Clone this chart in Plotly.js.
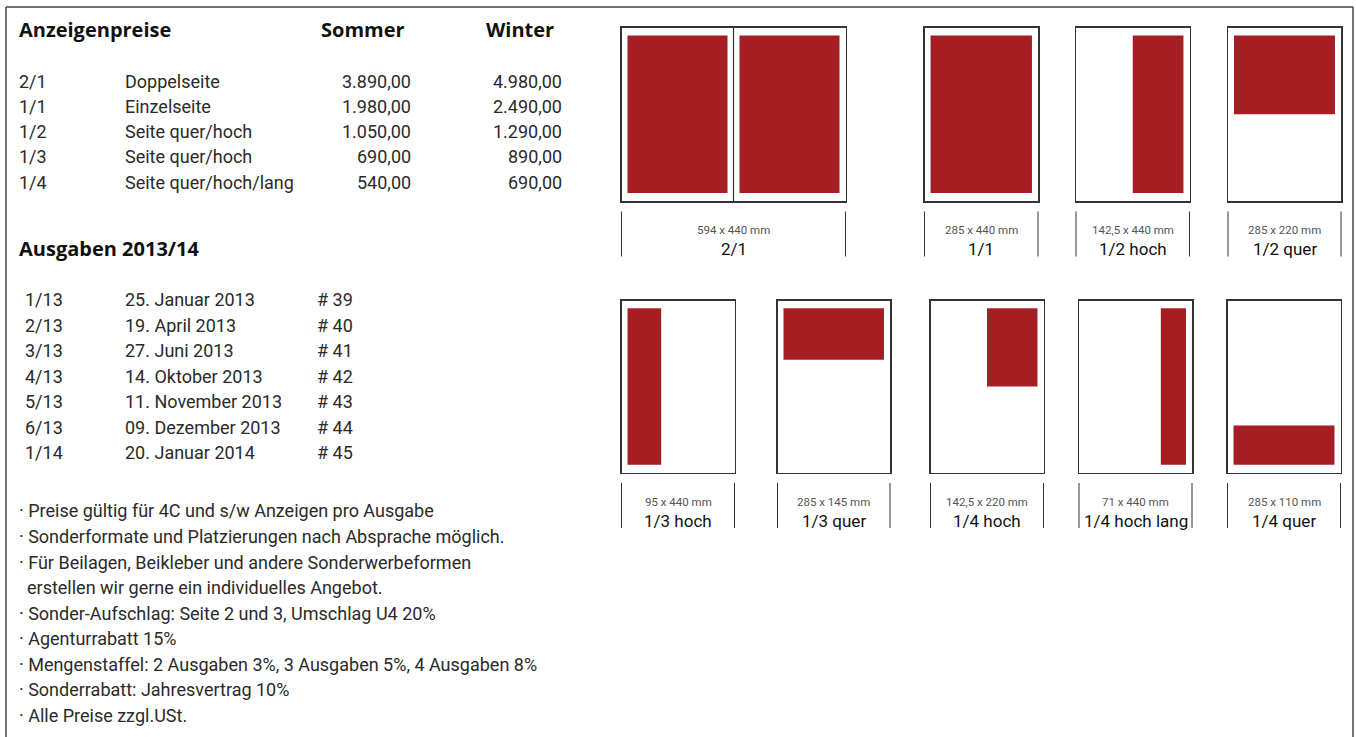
<!DOCTYPE html>
<html>
<head>
<meta charset="utf-8">
<script src="https://cdn.plot.ly/plotly-3.0.1.min.js"></script>
<style>
  html, body { margin: 0; padding: 0; background: #fff; }
  #chart { width: 1356px; height: 737px; }
</style>
</head>
<body>
<div id="chart"></div>
<script>
// ---------------- DATA ----------------
const priceFormats = ['2/1', '1/1', '1/2', '1/3', '1/4'];
const priceLabels = ['Doppelseite', 'Einzelseite', 'Seite quer/hoch', 'Seite quer/hoch', 'Seite quer/hoch/lang'];
const priceSommer = [3890, 1980, 1050, 690, 540];
const priceWinter = [4980, 2490, 1290, 890, 690];

const issueCodes = ['1/13', '2/13', '3/13', '4/13', '5/13', '6/13', '1/14'];
const issueDates = ['25. Januar 2013', '19. April 2013', '27. Juni 2013', '14. Oktober 2013',
                    '11. November 2013', '09. Dezember 2013', '20. Januar 2014'];
const issueNumbers = [39, 40, 41, 42, 43, 44, 45];

const notes = [
  '· Preise gültig für 4C und s/w Anzeigen pro Ausgabe',
  '· Sonderformate und Platzierungen nach Absprache möglich.',
  '· Für Beilagen, Beikleber und andere Sonderwerbeformen',
  '  erstellen wir gerne ein individuelles Angebot.',
  '· Sonder-Aufschlag: Seite 2 und 3, Umschlag U4 20%',
  '· Agenturrabatt 15%',
  '· Mengenstaffel: 2 Ausgaben 3%, 3 Ausgaben 5%, 4 Ausgaben 8%',
  '· Sonderrabatt: Jahresvertrag 10%',
  '· Alle Preise zzgl.USt.'
];

const formatNames = ['2/1', '1/1', '1/2 hoch', '1/2 quer', '1/3 hoch', '1/3 quer', '1/4 hoch', '1/4 hoch lang', '1/4 quer'];
const formatWidthMM = [594, 285, 142.5, 285, 95, 285, 142.5, 71, 285];
const formatHeightMM = [440, 440, 440, 220, 440, 145, 220, 440, 110];
const formatPlacement = ['spread', 'full', 'right', 'top', 'left', 'top', 'top-right', 'right', 'bottom'];
const PAGE_W = 285, PAGE_H = 440;

// ---------------- LAYOUT CONSTANTS ----------------
const W = 1356, H = 737;
const fx = x => x / W;
const fy = y => 1 - y / H;
const MX = 17, MY = 22;           // page margin around type area (mm)
const slots = [
  { l: 621.5, r: 845.5, t: 27.5, b: 201 },
  { l: 924.5, r: 1038, t: 27.5, b: 201 },
  { l: 1076, r: 1189.5, t: 27.5, b: 201 },
  { l: 1228, r: 1341, t: 27.5, b: 201 },
  { l: 621.5, r: 734.5, t: 300.5, b: 472.5 },
  { l: 777.5, r: 890, t: 300.5, b: 472.5 },
  { l: 930.5, r: 1043.5, t: 300.5, b: 472.5 },
  { l: 1079, r: 1192, t: 300.5, b: 472.5 },
  { l: 1227.5, r: 1340.5, t: 300.5, b: 472.5 }
];
const RED = '#a51e23';
const INK = '#2a2a2a';
const NARROW = 'Roboto, Liberation Sans, sans-serif';
const BOLD = 'Open Sans, Liberation Sans, sans-serif';
const BODY = 18;
const PAD = 2;

const fmtPrice = v => {
  const parts = v.toFixed(2).split('.');
  parts[0] = parts[0].replace(/\B(?=(\d{3})+(?!\d))/g, '.');
  return parts.join(',');
};
const fmtMM = v => String(v).replace('.', ',');

// ---------------- BUILD ----------------
const traces = [];
const layout = {
  width: W, height: H,
  margin: { l: 0, r: 0, t: 0, b: 0 },
  paper_bgcolor: '#ffffff', plot_bgcolor: 'rgba(0,0,0,0)',
  showlegend: false, barmode: 'overlay',
  annotations: [], shapes: []
};

function txt(x, y, text, opts) {
  const o = opts || {};
  const anchor = o.xanchor || 'left';
  const dx = anchor === 'left' ? -PAD : (anchor === 'right' ? PAD : 0);
  layout.annotations.push(Object.assign({
    xref: 'paper', yref: 'paper', x: fx(x + dx), y: fy(y), text: text,
    showarrow: false, xanchor: 'left', yanchor: 'middle',
    font: { family: NARROW, size: BODY, color: INK }
  }, o));
}
const headFont = { family: BOLD, size: 20, color: '#111', weight: 700 };

// Left text block
txt(19, 29, 'Anzeigenpreise', { font: headFont });
txt(363, 29, 'Sommer', { xanchor: 'center', font: headFont });
txt(520, 29, 'Winter', { xanchor: 'center', font: headFont });
priceFormats.forEach((f, i) => {
  const y = 81 + i * 25.3;
  txt(19, y, f);
  txt(125, y, priceLabels[i]);
  txt(411, y, fmtPrice(priceSommer[i]), { xanchor: 'right' });
  txt(562, y, fmtPrice(priceWinter[i]), { xanchor: 'right' });
});
txt(19, 248, 'Ausgaben 2013/14', { font: headFont });
issueCodes.forEach((c, i) => {
  const y = 300 + i * 25.4;
  txt(25, y, c);
  txt(125, y, issueDates[i]);
  txt(317, y, '# ' + issueNumbers[i]);
});
notes.forEach((n, i) => {
  const y = 511 + i * 25.5;
  const indented = n.startsWith('  ');
  txt(indented ? 27 : 19, y, n.trim());
});

// Frame
const frame = { color: '#444', width: 1.5 };
layout.shapes.push({ type: 'line', xref: 'paper', yref: 'paper', x0: fx(6), x1: fx(6), y0: fy(7), y1: fy(740), line: frame });
layout.shapes.push({ type: 'line', xref: 'paper', yref: 'paper', x0: fx(6), x1: fx(1353), y0: fy(7), y1: fy(7), line: frame });
layout.shapes.push({ type: 'line', xref: 'paper', yref: 'paper', x0: fx(1353), x1: fx(1353), y0: fy(7), y1: fy(740), line: frame });

// Pages
formatNames.forEach((name, i) => {
  const s = slots[i];
  const k = i + 1;
  const xa = 'xaxis' + k, ya = 'yaxis' + k;
  const spread = formatPlacement[i] === 'spread';
  const axisCommon = {
    showline: true, mirror: true, linecolor: '#333', linewidth: 1.5,
    showgrid: false, zeroline: false, showticklabels: false, ticks: '', fixedrange: true
  };
  layout[xa] = Object.assign({}, axisCommon, {
    domain: [fx(s.l), fx(s.r)], anchor: 'y' + k,
    range: spread ? [-MX, 2 * PAGE_W + 3 * MX] : [-MX, PAGE_W + MX]
  });
  layout[ya] = Object.assign({}, axisCommon, {
    domain: [fy(s.b), fy(s.t)], anchor: 'x' + k,
    range: [PAGE_H + MY, -MY]
  });

  const w = formatWidthMM[i], h = formatHeightMM[i];
  let rects;
  switch (formatPlacement[i]) {
    case 'spread': rects = [[0, 0, PAGE_W, PAGE_H], [PAGE_W + 2 * MX, 0, PAGE_W, PAGE_H]]; break;
    case 'right':
    case 'top-right': rects = [[PAGE_W - w, 0, w, h]]; break;
    case 'bottom': rects = [[0, PAGE_H - h, w, h]]; break;
    default: rects = [[0, 0, w, h]];
  }
  traces.push({
    type: 'bar', xaxis: 'x' + k, yaxis: 'y' + k,
    x: rects.map(r => r[0] + r[2] / 2),
    width: rects.map(r => r[2]),
    base: rects.map(r => r[1]),
    y: rects.map(r => r[3]),
    marker: { color: RED, line: { width: 0 } },
    hoverinfo: 'skip', showlegend: false
  });
  if (spread) {
    layout.shapes.push({ type: 'line', xref: 'x' + k, yref: 'y' + k + ' domain',
      x0: PAGE_W + MX, x1: PAGE_W + MX, y0: 0, y1: 1, line: { color: '#333', width: 1.2 } });
  }

  // bracket + labels
  const br = { color: '#333', width: 1 };
  [s.l, s.r].forEach(xp => {
    layout.shapes.push({ type: 'line', xref: 'paper', yref: 'paper',
      x0: fx(xp), x1: fx(xp), y0: fy(s.b + 10.5), y1: fy(s.b + 55.5), line: br });
  });
  const cx = (s.l + s.r) / 2;
  const sizeText = fmtMM(w) + ' x ' + fmtMM(h) + ' mm';
  txt(cx, s.b + 29.5, sizeText, { xanchor: 'center', font: { family: NARROW, size: 11.5, color: '#555' } });
  txt(cx, s.b + 48, name, { xanchor: 'center', font: { family: NARROW, size: 17, color: '#111', weight: 400 } });
});

Plotly.newPlot('chart', traces, layout, { displayModeBar: false, staticPlot: true });
</script>
</body>
</html>
